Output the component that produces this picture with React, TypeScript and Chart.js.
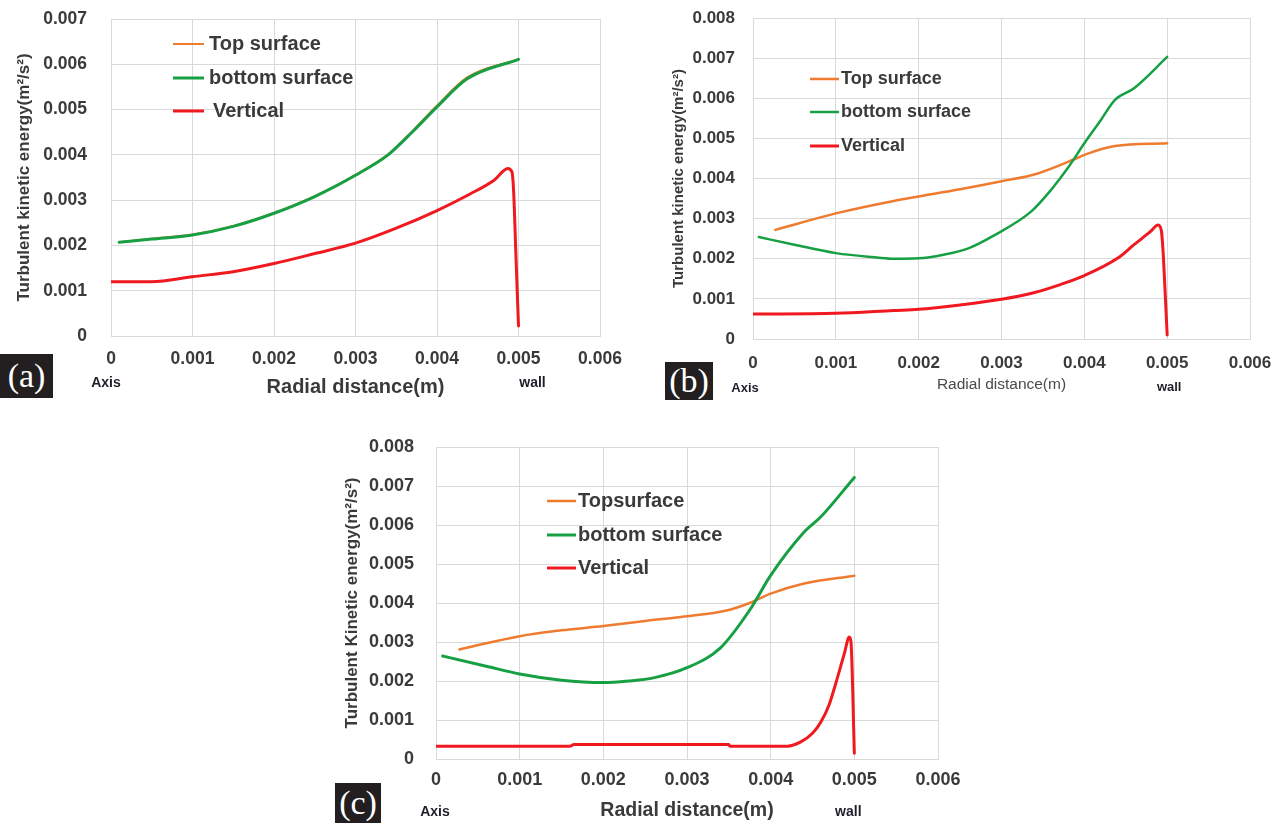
import { useEffect, useRef } from 'react';
import { Chart, registerables } from 'chart.js';

Chart.register(...registerables);

const FONT = '"Liberation Sans", Arial, Helvetica, sans-serif';
const TEXT = '#3a3a3a';
const GRID = '#d9d9d9';
const ORANGE = '#ef7b30';
const GREEN = '#17a043';
const RED = '#f0191f';

// x-axis ticks shared by all three panels (radial distance, m)
const X_MAX = 0.006;
const X_STEP = 0.001;
const Y_STEP = 0.001;

// ---- (a) ----
const aTopX = [0.0001, 0.0005, 0.001, 0.0015, 0.002, 0.0025, 0.003, 0.0034, 0.0037, 0.004, 0.00437, 0.005];
const aTopY = [0.00207, 0.00215, 0.00224, 0.00243, 0.00272, 0.00309, 0.00356, 0.00401, 0.00453, 0.00509, 0.00571, 0.00611];
const aBottomX = [0.0001, 0.0005, 0.001, 0.0015, 0.002, 0.0025, 0.003, 0.0034, 0.0037, 0.004, 0.00437, 0.005];
const aBottomY = [0.00207, 0.00214, 0.00223, 0.00242, 0.00271, 0.00308, 0.00355, 0.004, 0.00451, 0.00506, 0.00568, 0.00611];
const aVertX = [0, 0.0005, 0.001, 0.0015, 0.002, 0.0025, 0.003, 0.0035, 0.004, 0.0044, 0.0047, 0.00487, 0.00492, 0.00494, 0.00497, 0.005];
const aVertY = [0.0012, 0.0012, 0.00131, 0.00142, 0.0016, 0.00182, 0.00205, 0.00238, 0.00277, 0.00313, 0.00344, 0.0037, 0.00362, 0.0032, 0.0017, 0.00022];

// ---- (b) ----
const bTopX = [0.00027, 0.001, 0.0017, 0.002, 0.0025, 0.003, 0.00343, 0.00388, 0.004, 0.00437, 0.005];
const bTopY = [0.00272, 0.00313, 0.00344, 0.00355, 0.00373, 0.00393, 0.00412, 0.00448, 0.00459, 0.00481, 0.00488];
const bBottomX = [0.00007, 0.0005, 0.001, 0.0015, 0.0017, 0.002, 0.0023, 0.0026, 0.0029, 0.00336, 0.0036, 0.0038, 0.004, 0.0042, 0.00437, 0.0046, 0.005];
const bBottomY = [0.00254, 0.00235, 0.00214, 0.00203, 0.002, 0.00201, 0.0021, 0.00226, 0.00257, 0.00318, 0.00372, 0.00426, 0.00488, 0.00546, 0.00596, 0.00625, 0.00703];
const bVertX = [0, 0.001, 0.0017, 0.002, 0.0025, 0.003, 0.0034, 0.0037, 0.004, 0.0044, 0.0046, 0.0048, 0.00489, 0.00493, 0.00495, 0.00497, 0.005];
const bVertY = [0.00062, 0.00064, 0.00071, 0.00074, 0.00085, 0.00099, 0.00116, 0.00135, 0.00158, 0.00201, 0.00235, 0.00268, 0.00284, 0.0027, 0.0022, 0.0014, 0.0001];

// ---- (c) ----
const cTopX = [0.00028, 0.001, 0.0015, 0.002, 0.0025, 0.003, 0.00346, 0.00375, 0.004, 0.0044, 0.005];
const cTopY = [0.00281, 0.00315, 0.0033, 0.00341, 0.00354, 0.00366, 0.0038, 0.004, 0.00424, 0.0045, 0.0047];
const cBottomX = [0.00008, 0.0006, 0.001, 0.0015, 0.002, 0.0023, 0.0026, 0.003, 0.0034, 0.00375, 0.004, 0.0044, 0.0046, 0.005];
const cBottomY = [0.00264, 0.00238, 0.00218, 0.00202, 0.00196, 0.002, 0.00208, 0.00234, 0.00285, 0.00382, 0.00471, 0.00582, 0.00621, 0.00722];
const cVertX = [0, 0.0016, 0.00165, 0.0035, 0.00351, 0.0042, 0.00436, 0.0045, 0.0046, 0.0047, 0.0048, 0.00488, 0.00494, 0.00496, 0.005];
const cVertY = [0.00033, 0.00033, 0.00037, 0.00037, 0.00033, 0.00033, 0.00044, 0.00066, 0.00095, 0.0014, 0.0021, 0.0027, 0.00313, 0.003, 0.00015];

type Series = { label: string; xs: number[]; ys: number[]; color: string; width: number; order: number };

type Panel = {
  tag: string;
  canvas: { left: number; top: number; width: number; height: number };
  area: { left: number; top: number; right: number; bottom: number };
  yMax: number;
  yTitle: string;
  tickSize: number;
  tickPadX: number;
  tickPadY: number;
  yTitleSize: number;
  yTitlePad: number;
  xTitleSize: number;
  xTitleWeight: string;
  xTitleColor: string;
  xTitlePad: number;
  noteSize: number;
  axisNote: { dx: number; y: number };
  wallNote: { dx: number; y: number };
  legend: { lineX0: number; lineX1: number; textX: number[]; rows: number[]; size: number };
  tagBox: { left: number; top: number; width: number; height: number };
  series: Series[];
};

const mk = (label: string, xs: number[], ys: number[], color: string, width: number, order: number): Series => ({
  label, xs, ys, color, width, order,
});

const PANELS: Panel[] = [
  {
    tag: '(a)',
    canvas: { left: 0, top: -31, width: 640, height: 431 },
    area: { left: 111, top: 19, right: 600, bottom: 336 },
    yMax: 0.007,
    yTitle: 'Turbulent kinetic energy(m²/s²)',
    tickSize: 17.5,
    tickPadX: 13,
    tickPadY: 24,
    yTitleSize: 17,
    yTitlePad: 14,
    xTitleSize: 20,
    xTitleWeight: 'bold',
    xTitleColor: TEXT,
    xTitlePad: 1,
    noteSize: 14,
    axisNote: { dx: -5, y: 383 },
    wallNote: { dx: 14, y: 383 },
    legend: { lineX0: 173, lineX1: 204, textX: [209, 209, 213], rows: [44, 78, 111], size: 20 },
    tagBox: { left: 0, top: 354, width: 53, height: 44 },
    series: [
      mk('Top surface', aTopX, aTopY, ORANGE, 2, 3),
      mk('bottom surface', aBottomX, aBottomY, GREEN, 3, 2),
      mk('Vertical', aVertX, aVertY, RED, 3, 1),
    ],
  },
  {
    tag: '(b)',
    canvas: { left: 640, top: -32, width: 680, height: 432 },
    area: { left: 753, top: 18, right: 1250, bottom: 339 },
    yMax: 0.008,
    yTitle: 'Turbulent kinetic energy(m²/s²)',
    tickSize: 17,
    tickPadX: 14,
    tickPadY: 18,
    yTitleSize: 15,
    yTitlePad: 30,
    xTitleSize: 15.5,
    xTitleWeight: 'normal',
    xTitleColor: '#4a4a4a',
    xTitlePad: 6,
    noteSize: 13,
    axisNote: { dx: -8, y: 388 },
    wallNote: { dx: 2, y: 387 },
    legend: { lineX0: 810, lineX1: 839, textX: [841, 841, 841], rows: [79, 112, 146], size: 18 },
    tagBox: { left: 665, top: 362, width: 48, height: 38 },
    series: [
      mk('Top surface', bTopX, bTopY, ORANGE, 2.5, 3),
      mk('bottom surface', bBottomX, bBottomY, GREEN, 2.5, 2),
      mk('Vertical', bVertX, bVertY, RED, 3, 1),
    ],
  },
  {
    tag: '(c)',
    canvas: { left: 320, top: 397, width: 680, height: 426 },
    area: { left: 436, top: 447, right: 938, bottom: 759 },
    yMax: 0.008,
    yTitle: 'Turbulent Kinetic energy(m²/s²)',
    tickSize: 18,
    tickPadX: 10,
    tickPadY: 22,
    yTitleSize: 17,
    yTitlePad: 22,
    xTitleSize: 19.5,
    xTitleWeight: 'bold',
    xTitleColor: TEXT,
    xTitlePad: 1,
    noteSize: 14,
    axisNote: { dx: -1, y: 812 },
    wallNote: { dx: -6, y: 812 },
    legend: { lineX0: 547, lineX1: 576, textX: [578, 578, 578], rows: [501, 535, 568], size: 20 },
    tagBox: { left: 335, top: 783, width: 46, height: 40 },
    series: [
      mk('Topsurface', cTopX, cTopY, ORANGE, 2.5, 3),
      mk('bottom surface', cBottomX, cBottomY, GREEN, 3, 2),
      mk('Vertical', cVertX, cVertY, RED, 3, 1),
    ],
  },
];

const fmt = (v: number | string) => {
  const n = Number(v);
  return Math.abs(n) < 1e-9 ? '0' : n.toFixed(3);
};

function PanelChart({ p }: { p: Panel }) {
  const ref = useRef<HTMLCanvasElement | null>(null);

  useEffect(() => {
    const canvas = ref.current;
    if (!canvas) return;
    const c = p.canvas;

    // in-plot legend: short coloured line + label per series
    const legendPlugin = {
      id: 'inPlotLegend',
      afterDraw(chart: Chart) {
        const ctx = chart.ctx;
        ctx.save();
        ctx.font = `bold ${p.legend.size}px ${FONT}`;
        ctx.fillStyle = TEXT;
        ctx.textBaseline = 'middle';
        ctx.textAlign = 'left';
        p.series.forEach((s, i) => {
          const y = p.legend.rows[i] - c.top;
          ctx.strokeStyle = s.color;
          ctx.lineWidth = s.width;
          ctx.beginPath();
          ctx.moveTo(p.legend.lineX0 - c.left, y);
          ctx.lineTo(p.legend.lineX1 - c.left, y);
          ctx.stroke();
          ctx.fillText(s.label, p.legend.textX[i] - c.left, y);
        });
        ctx.restore();
      },
    };

    // "Axis" / "wall" notes under the x ticks at r = 0 and r = 0.005
    const notesPlugin = {
      id: 'axisWallNotes',
      afterDraw(chart: Chart) {
        const ctx = chart.ctx;
        const xs = chart.scales.x;
        ctx.save();
        ctx.font = `bold ${p.noteSize}px ${FONT}`;
        ctx.fillStyle = '#1e1e2a';
        ctx.textAlign = 'center';
        ctx.textBaseline = 'middle';
        ctx.fillText('Axis', xs.getPixelForValue(0) + p.axisNote.dx, p.axisNote.y - c.top);
        ctx.fillText('wall', xs.getPixelForValue(0.005) + p.wallNote.dx, p.wallNote.y - c.top);
        ctx.restore();
      },
    };

    const chart = new Chart(canvas, {
      type: 'line',
      data: {
        datasets: p.series.map((s) => ({
          label: s.label,
          data: s.xs.map((x, i) => ({ x, y: s.ys[i] })),
          borderColor: s.color,
          backgroundColor: s.color,
          borderWidth: s.width,
          pointRadius: 0,
          cubicInterpolationMode: 'monotone' as const,
          fill: false,
          order: s.order,
          borderJoinStyle: 'round' as const,
          borderCapStyle: 'round' as const,
        })),
      },
      options: {
        animation: false,
        responsive: false,
        maintainAspectRatio: false,
        events: [],
        layout: {
          padding: {
            left: 0,
            top: p.area.top - c.top,
            right: c.left + c.width - p.area.right,
            bottom: 0,
          },
        },
        plugins: {
          legend: { display: false },
          tooltip: { enabled: false },
        },
        scales: {
          x: {
            type: 'linear',
            min: 0,
            max: X_MAX,
            ticks: {
              stepSize: X_STEP,
              callback: (v: number | string) => fmt(v),
              font: { family: FONT, size: p.tickSize, weight: 'bold' },
              color: TEXT,
              padding: p.tickPadX,
              maxRotation: 0,
            },
            grid: { color: GRID, drawTicks: false, lineWidth: 1 },
            border: { color: GRID },
            title: {
              display: true,
              text: 'Radial distance(m)',
              font: { family: FONT, size: p.xTitleSize, weight: p.xTitleWeight as any },
              color: p.xTitleColor,
              padding: { top: 0, bottom: p.xTitlePad },
            },
            afterFit: (scale: any) => {
              scale.height = c.top + c.height - p.area.bottom;
            },
          },
          y: {
            type: 'linear',
            min: 0,
            max: p.yMax,
            ticks: {
              stepSize: Y_STEP,
              callback: (v: number | string) => fmt(v),
              font: { family: FONT, size: p.tickSize, weight: 'bold' },
              color: TEXT,
              padding: p.tickPadY,
            },
            grid: { color: GRID, drawTicks: false, lineWidth: 1 },
            border: { color: GRID },
            title: {
              display: true,
              text: p.yTitle,
              font: { family: FONT, size: p.yTitleSize, weight: 'bold' },
              color: TEXT,
              padding: { top: p.yTitlePad, bottom: 0 },
            },
            afterFit: (scale: any) => {
              scale.width = p.area.left - c.left;
            },
          },
        },
      },
      plugins: [legendPlugin, notesPlugin],
    } as any);

    return () => chart.destroy();
  }, [p]);

  return (
    <>
      <canvas
        ref={ref}
        width={p.canvas.width}
        height={p.canvas.height}
        style={{
          position: 'absolute',
          left: p.canvas.left,
          top: p.canvas.top,
          width: p.canvas.width,
          height: p.canvas.height,
          display: 'block',
        }}
      />
      <div
        style={{
          position: 'absolute',
          left: p.tagBox.left,
          top: p.tagBox.top,
          width: p.tagBox.width,
          height: p.tagBox.height,
          background: '#231f20',
          color: '#ffffff',
          fontFamily: '"Liberation Serif", "DejaVu Serif", serif',
          fontSize: 34,
          lineHeight: `${p.tagBox.height}px`,
          textAlign: 'center',
        }}
      >
        {p.tag}
      </div>
    </>
  );
}

export default function App() {
  return (
    <div
      style={{
        position: 'fixed',
        left: 0,
        top: 0,
        width: 1278,
        height: 823,
        background: '#ffffff',
        overflow: 'hidden',
      }}
    >
      {PANELS.map((p) => (
        <PanelChart key={p.tag} p={p} />
      ))}
    </div>
  );
}
